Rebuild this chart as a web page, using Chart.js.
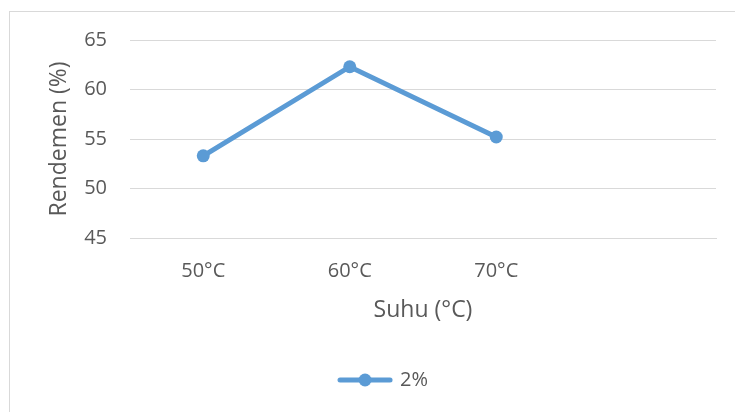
<!DOCTYPE html>
<html>
<head>
<meta charset="utf-8">
<script src="https://cdn.jsdelivr.net/npm/chart.js@4"></script>
<style>
  body { margin: 0; background: #fff; }
  #wrap { position: relative; width: 735px; height: 412px; overflow: hidden; }
  #frame { position: absolute; left: 9px; top: 11px; width: 800px; height: 500px;
           border-left: 1px solid #d9d9d9; border-top: 1px solid #d9d9d9; }
  #chart { position: absolute; left: 0; top: 0; }
</style>
</head>
<body>
<div id="wrap">
  <div id="frame"></div>
  <canvas id="chart" width="735" height="412"></canvas>
</div>
<script>
// Data
const suhuLabels = ['50°C', '60°C', '70°C', ''];
const rendemen2 = [53.3, 62.3, 55.2];
const yTicks = [45, 50, 55, 60, 65];

const blue = '#5B9BD5';
const textColor = '#595959';
const gridColor = '#d9d9d9';

// Legend marker: a line with a dot in the middle, like the Excel legend
function makeLegendMarker() {
  const c = document.createElement('canvas');
  c.width = 56;
  c.height = 14;
  const g = c.getContext('2d');
  g.strokeStyle = blue;
  g.lineWidth = 5;
  g.lineCap = 'round';
  g.beginPath();
  g.moveTo(3, 7);
  g.lineTo(53, 7);
  g.stroke();
  g.fillStyle = blue;
  g.beginPath();
  g.arc(28, 7, 6.5, 0, Math.PI * 2);
  g.fill();
  return c;
}
const legendMarker = makeLegendMarker();

Chart.defaults.font.family = '"Open Sans", sans-serif';
Chart.defaults.color = textColor;

new Chart(document.getElementById('chart'), {
  type: 'line',
  data: {
    labels: suhuLabels,
    datasets: [{
      label: '2%',
      data: rendemen2,
      borderColor: blue,
      backgroundColor: blue,
      borderWidth: 5,
      borderCapStyle: 'round',
      pointRadius: 6.5,
      pointBorderWidth: 0,
      pointBackgroundColor: blue,
      tension: 0
    }]
  },
  options: {
    responsive: false,
    animation: false,
    layout: { padding: { left: 52, right: 19, top: 40, bottom: 12 } },
    plugins: {
      tooltip: { enabled: false },
      legend: {
        position: 'bottom',
        labels: {
          usePointStyle: true,
          pointStyleWidth: 50,
          padding: 10,
          color: textColor,
          font: { size: 20 },
          generateLabels: (chart) => chart.data.datasets.map((ds, i) => ({
            text: ds.label,
            pointStyle: legendMarker,
            fillStyle: blue,
            strokeStyle: blue,
            lineWidth: 0,
            fontColor: textColor,
            datasetIndex: i
          }))
        }
      }
    },
    scales: {
      x: {
        offset: true,
        grid: { display: false, drawTicks: false },
        border: { display: true, color: gridColor, width: 1 },
        ticks: { padding: 21, font: { size: 20 }, color: textColor },
        title: { display: true, text: 'Suhu (°C)', font: { size: 23 }, color: textColor,
                 padding: { top: 0, bottom: 36 } },
        afterFit: (s) => { s.height = 122; }
      },
      y: {
        min: 45,
        max: 65,
        afterBuildTicks: (s) => { s.ticks = yTicks.map(v => ({ value: v })); },
        grid: { color: gridColor, lineWidth: 1, drawTicks: false },
        border: { display: false },
        ticks: { padding: 23, font: { size: 20 }, color: textColor },
        title: { display: true, text: 'Rendemen (%)', font: { size: 23 }, color: textColor,
                 padding: { top: -6, bottom: 0 } },
        afterFit: (s) => { s.width = 78; }
      }
    }
  }
});
</script>
</body>
</html>
